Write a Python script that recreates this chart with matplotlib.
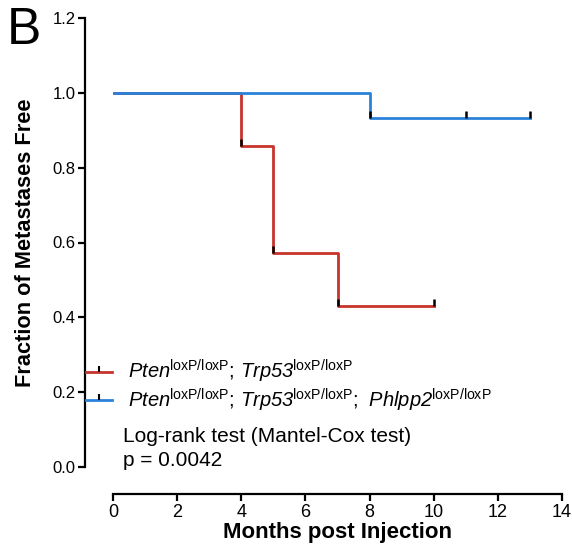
import matplotlib
matplotlib.use("Agg")
from matplotlib import pyplot as plt
from matplotlib.path import Path
from matplotlib.lines import Line2D

plt.rcParams['font.family'] = ['Liberation Sans', 'DejaVu Sans']
plt.rcParams['mathtext.fontset'] = 'custom'
# italic as the math "rm" so digits (Trp53, Phlpp2) come out italic too
plt.rcParams['mathtext.rm'] = 'Liberation Sans:italic'
plt.rcParams['mathtext.it'] = 'Liberation Sans:italic'
plt.rcParams['mathtext.sf'] = 'Liberation Sans'

# Kaplan-Meier steps (months, fraction free)
red_times = [0, 4, 5, 7, 10]
red_surv = [1.0, 0.857, 0.571, 0.429, 0.429]
red_censor_t = [4, 5, 7, 10]
red_censor_s = [0.857, 0.571, 0.429, 0.429]

blue_times = [0, 8, 13]
blue_surv = [1.0, 0.933, 0.933]
blue_censor_t = [8, 11, 13]
blue_censor_s = [0.933, 0.933, 0.933]

red_label = r'$\mathrm{Pten}^{\mathsf{loxP/loxP}}$; $\mathrm{Trp53}^{\mathsf{loxP/loxP}}$'
blue_label = (r'$\mathrm{Pten}^{\mathsf{loxP/loxP}}$; $\mathrm{Trp53}^{\mathsf{loxP/loxP}}$; '
              r'$\ \mathrm{Phlpp2}^{\mathsf{loxP/loxP}}$')

red_col = '#c8342c'
blue_col = '#2b82d9'
tick_mark = Path([(0, 0), (0, 1)])

fig = plt.figure(figsize=(5.72, 5.53), dpi=100)
ax = fig.add_axes([113 / 572, 86 / 553, 449 / 572, 449 / 553])

ax.step(red_times, red_surv, where='post', color=red_col, lw=2)
ax.step(blue_times, blue_surv, where='post', color=blue_col, lw=2)
ax.plot(red_censor_t, red_censor_s, ls='none', marker=tick_mark,
        ms=10, mec='black', mew=1.8)
ax.plot(blue_censor_t, blue_censor_s, ls='none', marker=tick_mark,
        ms=10, mec='black', mew=1.8)

ax.set_xlim(0, 14)
ax.set_ylim(0, 1.2)
ax.set_xticks(range(0, 15, 2))
ax.set_yticks([0.0, 0.2, 0.4, 0.6, 0.8, 1.0, 1.2])
ax.set_yticklabels(['0.0', '0.2', '0.4', '0.6', '0.8', '1.0', '1.2'])
for s in ['top', 'right']:
    ax.spines[s].set_visible(False)
ax.spines['left'].set_position(('outward', 20))
ax.spines['bottom'].set_position(('outward', 19.5))
for s in ['left', 'bottom']:
    ax.spines[s].set_linewidth(1.6)
ax.tick_params(width=1.6, length=5, pad=2)
ax.tick_params(axis='x', labelsize=13)
ax.tick_params(axis='y', labelsize=12)

ax.set_xlabel('Months post Injection', fontsize=16, fontweight='bold', labelpad=1)
ax.set_ylabel('Fraction of Metastases Free', fontsize=15.7, fontweight='bold', labelpad=12)

handles = [
    Line2D([0], [0], color=red_col, lw=2, marker=tick_mark, ms=9, mec='black', mew=1.5),
    Line2D([0], [0], color=blue_col, lw=2, marker=tick_mark, ms=9, mec='black', mew=1.5),
]
leg = ax.legend(handles, [red_label, blue_label], loc='upper left',
                bbox_to_anchor=(86 / 572, 1 - 358 / 553), numpoints=1,
                bbox_transform=fig.transFigure, frameon=False, fontsize=14.5,
                handlelength=1.3, handletextpad=0.8, labelspacing=0.07,
                borderpad=0, borderaxespad=0)

fig.text(123 / 572, 1 - 437 / 553, 'Log-rank test (Mantel-Cox test)', fontsize=15,
         va='center')
fig.text(123 / 572, 1 - 461 / 553, 'p = 0.0042', fontsize=15, va='center')

fig.text(7 / 572, 1 - 30 / 553, 'B', fontsize=37, va='center')

fig.savefig('out.png', dpi=100)
